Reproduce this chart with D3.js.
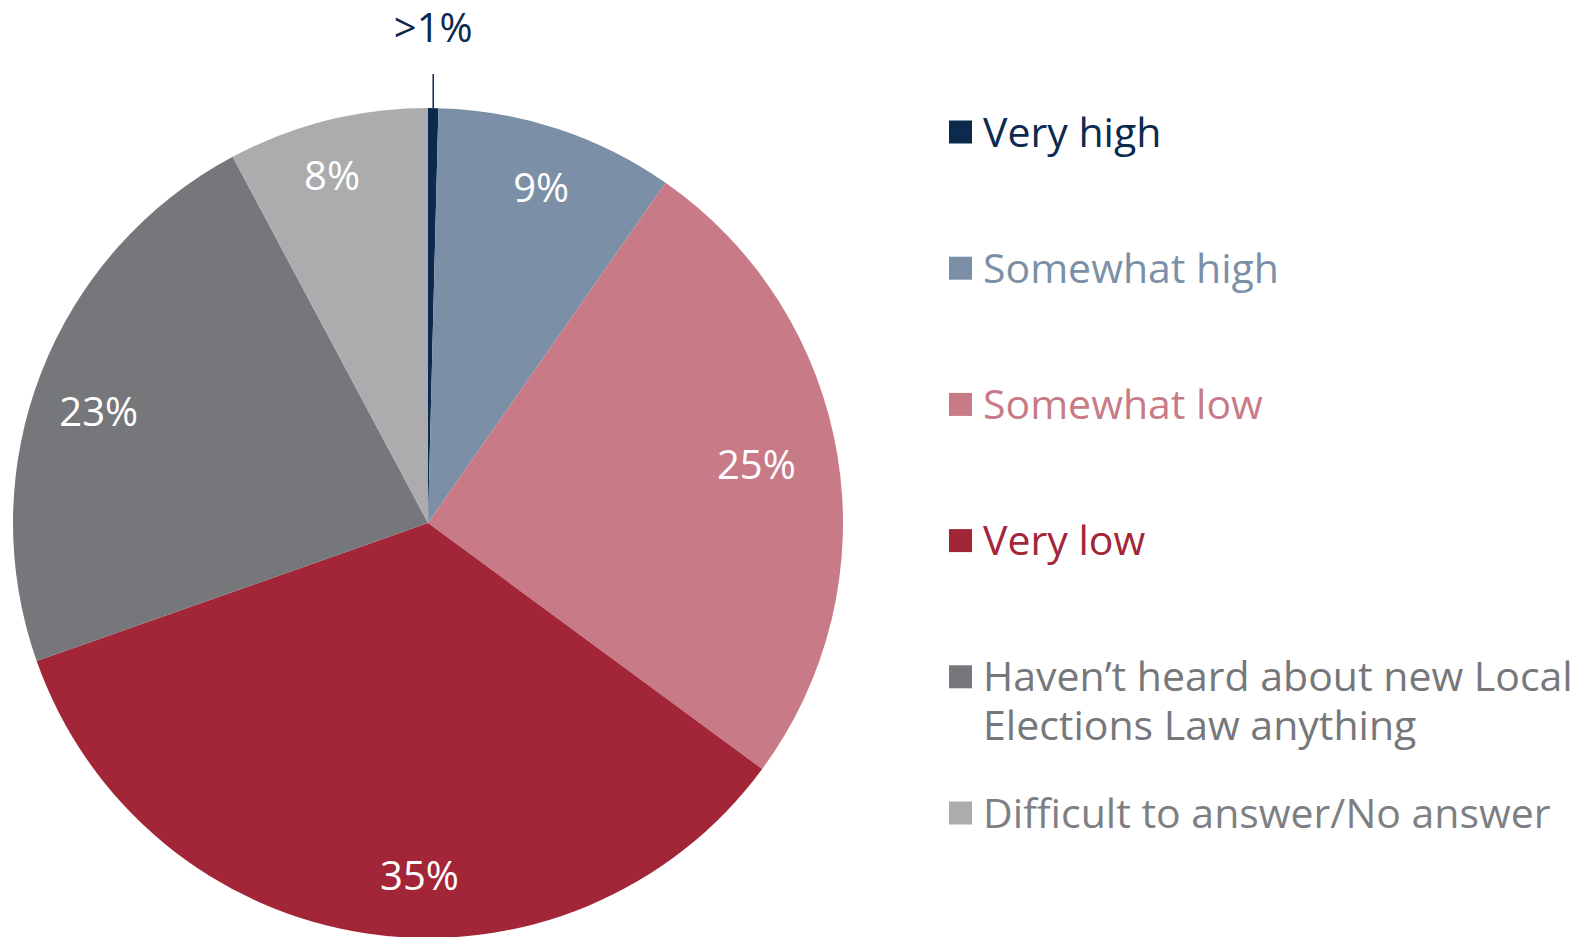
<!DOCTYPE html>
<html>
<head>
<meta charset="utf-8">
<script src="https://cdn.jsdelivr.net/npm/d3@7"></script>
<style>
  html, body { margin: 0; padding: 0; background: #fff; }
  svg text { font-family: "Open Sans", "Noto Sans", sans-serif; }
</style>
</head>
<body>
<svg id="viz" width="1595" height="937"></svg>
<script>
// DATA
var categories = ["Very high", "Somewhat high", "Somewhat low", "Very low",
                  "Haven\u2019t heard about new Local Elections Law anything",
                  "Difficult to answer/No answer"];
var values = [0.4, 9.3, 25.4, 34.5, 22.6, 7.8];
var valueLabels = [">1%", "9%", "25%", "35%", "23%", "8%"];
var colors = ["#0c2a4e", "#7b90a6", "#c87b87", "#a32638", "#76777b", "#acacae"];
// legend lines (long label is wrapped in two lines)
var legendLines = [["Very high"], ["Somewhat high"], ["Somewhat low"], ["Very low"],
                   ["Haven\u2019t heard about new Local", "Elections Law anything"],
                   ["Difficult to answer/No answer"]];

(function () {
    'use strict';
    var svg = d3.select("#viz");
    var cx = 428, cy = 523, radius = 415; // pie geometry
    var labelR = 350;
    // small nudges so labels sit like the original (best-fit placement)
    var nudges = [[0, 0], [4, -3], [-17, -1], [43, 6], [-3, 15], [-11, -8]];
    var legendTextColor = function (d, i) { return i === 5 ? "#7e7f82" : d.color; };

    var data = categories.map(function (c, i) {
        return { name: c, value: values[i], label: valueLabels[i], color: colors[i], i: i };
    });

    var pie = d3.pie().sort(null).value(function (d) { return d.value; });
    var arc = d3.arc().innerRadius(0).outerRadius(radius);
    var labelArc = d3.arc().innerRadius(labelR).outerRadius(labelR);

    var g = svg.append("g").attr("transform", "translate(" + cx + "," + cy + ")");
    var arcs = pie(data);

    //SLICES
    g.selectAll(".slice")
        .data(arcs)
        .enter()
        .append("path")
        .attr("class", "slice")
        .attr("d", arc)
        .attr("fill", function (d) { return d.data.color; });

    //LABELS inside (skip tiny first slice, it gets a leader line)
    g.selectAll(".plabel")
        .data(arcs.slice(1))
        .enter()
        .append("text")
        .attr("class", "plabel")
        .attr("transform", function (d) {
            var c = labelArc.centroid(d), n = nudges[d.data.i];
            return "translate(" + (c[0] + n[0]) + "," + (c[1] + n[1]) + ")";
        })
        .attr("text-anchor", "middle")
        .attr("dy", "0.36em")
        .attr("fill", "#fff")
        .style("font-size", "40px")
        .text(function (d) { return d.data.label; });

    // leader line for the small slice
    var small = arcs[0];
    var mid = (small.startAngle + small.endAngle) / 2;
    var lx = Math.sin(mid) * radius;
    g.append("line")
        .attr("x1", lx).attr("x2", lx)
        .attr("y1", -Math.cos(mid) * radius)
        .attr("y2", -radius - 34)
        .attr("stroke", small.data.color)
        .attr("stroke-width", 1.5);
    g.append("text")
        .attr("x", lx)
        .attr("y", -radius - 66)
        .attr("text-anchor", "middle")
        .attr("fill", small.data.color)
        .style("font-size", "40px")
        .text(small.data.label);

    //LEGEND
    var legendY = d3.scaleLinear().domain([0, categories.length - 1]).range([132, 813]);
    var legend = svg.selectAll(".legend")
        .data(data)
        .enter()
        .append("g")
        .attr("class", "legend")
        .attr("transform", function (d, i) { return "translate(949," + legendY(i) + ")"; });
    legend.append("rect")
        .attr("x", 0).attr("y", -11.5)
        .attr("width", 23).attr("height", 23)
        .attr("fill", function (d) { return d.color; });
    legend.each(function (d, i) {
        var t = d3.select(this).append("text")
            .attr("x", 34)
            .attr("y", 14.5)
            .attr("fill", legendTextColor(d, i))
            .style("font-size", "41px");
        legendLines[i].forEach(function (line, j) {
            t.append("tspan").attr("x", 34).attr("dy", j ? 49 : 0).text(line);
        });
    });
}());
</script>
</body>
</html>
